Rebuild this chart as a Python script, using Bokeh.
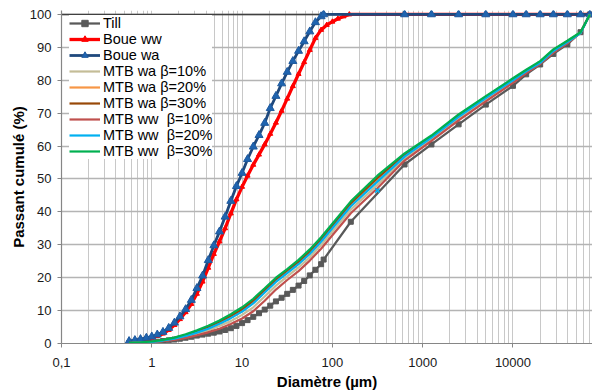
from bokeh.plotting import figure
from bokeh.models import (Range1d, FixedTicker, CustomJSTickFormatter, Legend,
                          LegendItem, Span)
from bokeh.embed import file_html
from bokeh.resources import INLINE

# ---------------- data ----------------
x_ticks = [0.1, 1, 10, 100, 1000, 10000]
x_minor = [m * 10.0 ** e for e in range(-1, 5) for m in range(2, 10)]
y_ticks = [0, 10, 20, 30, 40, 50, 60, 70, 80, 90, 100]

# laser diffraction classes (µm)
laser_d = [0.56, 0.65, 0.75, 0.87, 1.0, 1.15, 1.33, 1.54, 1.78, 2.05, 2.37, 2.74,
           3.16, 3.65, 4.22, 4.87, 5.62, 6.49, 7.50, 8.66, 10.0, 11.5, 13.3, 15.4,
           17.8, 20.5, 23.7, 27.4, 31.6, 36.5, 42.2, 48.7, 56.2, 64.9, 75.0]

till_laser = [0.1, 0.15, 0.2, 0.3, 0.4, 0.55, 0.75, 0.95, 1.2, 1.45, 1.75, 2.05,
              2.4, 2.7, 3.0, 3.3, 3.65, 4.1, 4.65, 5.35, 6.2, 7.1, 8.1, 9.2,
              10.3, 11.5, 12.8, 13.9, 15.1, 16.3, 17.6, 19.0, 20.7, 22.4, 24.1]
till_sieve_d = [80, 160, 630, 1250, 2500, 5000, 10000, 14000, 20000, 28000,
                40000, 56000, 71000]
till_sieve = [25.5, 37.0, 54.4, 60.5, 66.6, 72.6, 78.3, 81.8, 84.8, 88.0,
              90.9, 94.6, 100.0]

boue_ww_laser = [0.5, 0.8, 1.1, 1.4, 1.8, 2.3, 3.0, 4.1, 5.6, 7.4, 9.5, 12.0,
                 15.1, 18.8, 23.0, 27.2, 31.0, 35.0, 39.5, 43.8, 47.6, 51.0, 54.3, 57.4,
                 60.5, 63.7, 67.1, 70.7, 74.4, 78.2, 81.9, 85.5, 89.2, 92.8, 95.3]
boue_ww_tail_d = [86.6, 100, 115, 133, 154, 630, 1250, 2500, 5000, 10000, 14000,
                  20000, 28000, 40000, 56000, 71000]
boue_ww_tail = [96.8, 97.8, 98.7, 99.4, 100, 100, 100, 100, 100, 100, 100,
                100, 100, 100, 100, 100]

boue_wa_laser = [0.7, 1.0, 1.3, 1.7, 2.1, 2.7, 3.5, 4.7, 6.3, 8.2, 10.4, 13.2,
                 16.8, 20.6, 25.3, 29.8, 34.0, 38.5, 43.3, 47.8, 51.8, 56.0, 59.8, 63.3,
                 67.0, 71.5, 75.2, 79.0, 82.5, 85.8, 88.9, 91.8, 94.8, 97.6, 99.4]
boue_wa_tail_d = [80, 630, 1250, 2500, 5000, 10000, 14000, 20000, 28000, 40000,
                  56000, 71000]
boue_wa_tail = [100, 100, 100, 100, 100, 100, 100, 100, 100, 100, 100, 100]

mtb_d = [0.56, 0.75, 1.0, 1.33, 1.78, 2.37, 3.16, 4.22, 5.62, 7.5, 10, 13.3, 17.8,
         23.7, 31.6, 42.2, 56.2, 75, 160, 315, 630, 1250, 2500, 5000, 10000, 14000,
         20000, 28000, 40000, 56000, 71000]
mtb_wa_10 = [0.1, 0.25, 0.45, 0.8, 1.3, 2.0, 2.9, 4.0, 5.3, 6.8, 8.7, 11.0, 14.3,
             17.6, 20.4, 23.1, 26.2, 29.9, 40.7, 48.2, 56.2, 62.1, 68.3, 74.1, 79.6, 82.4,
             85.1, 88.6, 91.4, 94.4, 100]
mtb_wa_20 = [0.15, 0.3, 0.5, 0.95, 1.6, 2.5, 3.5, 4.8, 6.3, 8.1, 10.1, 12.6, 15.9,
             19.1, 21.8, 24.5, 27.6, 31.3, 42.1, 49.7, 57.1, 62.7, 69.1, 74.7, 80.1, 82.8,
             85.4, 89.0, 91.7, 94.4, 100]
mtb_wa_30 = [0.2, 0.3, 0.55, 1.0, 1.7, 2.6, 3.7, 5.0, 6.6, 8.4, 10.4, 13.0, 16.3,
             19.5, 22.2, 24.9, 28.0, 31.7, 42.6, 50.3, 57.4, 62.9, 69.3, 74.9, 80.3, 83.0,
             85.6, 89.2, 91.8, 94.5, 100]
mtb_ww_10 = [0.1, 0.2, 0.4, 0.7, 1.1, 1.7, 2.5, 3.4, 4.5, 5.9, 7.6, 9.8, 13.0,
             16.4, 19.3, 22.0, 25.2, 28.8, 39.6, 47.2, 55.6, 61.6, 67.8, 73.6, 79.2, 82.2,
             85.0, 88.4, 91.2, 94.4, 100]
mtb_ww_20 = [0.15, 0.3, 0.5, 0.9, 1.5, 2.3, 3.3, 4.5, 6.0, 7.7, 9.7, 12.2, 15.5,
             18.7, 21.4, 24.1, 27.2, 30.9, 41.7, 49.2, 56.8, 62.6, 68.9, 74.6, 80.0, 82.7,
             85.3, 88.9, 91.6, 94.3, 100]
mtb_ww_30 = [0.2, 0.35, 0.6, 1.1, 1.8, 2.8, 4.0, 5.4, 7.0, 8.9, 11.0, 13.6, 16.8,
             20.0, 22.6, 25.4, 28.6, 32.3, 43.2, 51.0, 57.8, 63.2, 69.6, 75.2, 80.6, 83.2,
             85.8, 89.4, 92.0, 94.6, 100]
ww20_mark_d = [315]
ww20_mark_v = [46.5]

labels = ["Till", "Boue ww", "Boue wa", "MTB wa β=10%", "MTB wa β=20%",
          "MTB wa β=30%", "MTB ww  β=10%", "MTB ww  β=20%", "MTB ww  β=30%"]

# ---------------- figure ----------------
FONT = "Liberation Sans"
p = figure(width=592, height=392, x_axis_type="log",
           x_range=Range1d(0.1, 76000), y_range=Range1d(0, 101.2),
           output_backend="svg", toolbar_location=None,
           min_border_left=61, min_border_right=0, min_border_top=10,
           min_border_bottom=49)
p.outline_line_color = None
p.background_fill_color = "white"
p.border_fill_color = "white"

xa = p.xaxis[0]
xa.ticker = FixedTicker(ticks=x_ticks, minor_ticks=x_minor)
xa.formatter = CustomJSTickFormatter(
    code="return (tick < 0.5) ? '0,1' : Math.round(tick).toString();")
ya = p.yaxis[0]
ya.ticker = FixedTicker(ticks=y_ticks)
for ax in (xa, ya):
    ax.axis_line_color = "#868686"
    ax.axis_line_width = 1.2
    ax.major_tick_line_color = "#868686"
    ax.major_tick_in = 0
    ax.major_tick_out = 4
    ax.minor_tick_line_color = None
    ax.major_label_text_font = FONT
    ax.major_label_text_font_size = "13px"
    ax.major_label_text_color = "#1a1a1a"
    ax.axis_label_text_font = FONT
    ax.axis_label_text_font_style = "bold"
    ax.axis_label_text_font_size = "15px"
    ax.axis_label_text_color = "#000000"
xa.major_label_standoff = 10
xa.axis_label = "Diamètre (µm)"
xa.axis_label_standoff = 3
ya.major_label_standoff = 6
ya.axis_label = "Passant cumulé (%)"
ya.axis_label_standoff = 0

p.xgrid.ticker = xa.ticker
p.xgrid.grid_line_color = "#C8C8C8"
p.xgrid.minor_grid_line_color = "#C8C8C8"
p.xgrid.grid_line_width = 1
p.xgrid.minor_grid_line_width = 1
p.ygrid.ticker = ya.ticker
p.ygrid.grid_line_color = "#B4B4B4"
p.ygrid.grid_line_width = 1.3

top = Span(location=100, dimension="width", line_color="#404040", line_width=1.5,
           level="underlay")
p.add_layout(top)

# ---------------- series ----------------
till_x = laser_d + till_sieve_d
till_y = till_laser + till_sieve
r_till = p.line(till_x, till_y, line_color="#595959", line_width=2.25)
m_till = p.scatter(till_x, till_y, marker="square", size=5,
                   fill_color="#595959", line_color="#595959")

ww_x = laser_d + boue_ww_tail_d
ww_y = boue_ww_laser + boue_ww_tail
r_ww = p.line(ww_x, ww_y, line_color="#FF0000", line_width=3.3)
m_ww = p.scatter(ww_x, ww_y, marker="triangle", size=5,
                 fill_color="#FF0000", line_color="#FF0000")

wa_x = laser_d + boue_wa_tail_d
wa_y = boue_wa_laser + boue_wa_tail
r_wa = p.line(wa_x, wa_y, line_color="#1F497D", line_width=2.8)
m_wa = p.scatter(wa_x, wa_y, marker="triangle", size=8,
                 fill_color="#1F64B0", line_color="#1F5A9E")

mtb_series = [(mtb_wa_10, "#C4BD97"), (mtb_wa_20, "#F79646"), (mtb_wa_30, "#984807"),
              (mtb_ww_10, "#C0504D"), (mtb_ww_20, "#00B0F0"), (mtb_ww_30, "#00B050")]
mtb_r = []
for vals, col in mtb_series:
    mtb_r.append(p.line(mtb_d, vals, line_color=col, line_width=2.2))
p.scatter(ww20_mark_d, ww20_mark_v, marker="x", size=6, line_color="#00B0F0",
          line_width=1.5)

items = [LegendItem(label=labels[0], renderers=[r_till, m_till]),
         LegendItem(label=labels[1], renderers=[r_ww, m_ww]),
         LegendItem(label=labels[2], renderers=[r_wa, m_wa])]
for lab, r in zip(labels[3:], mtb_r):
    items.append(LegendItem(label=lab, renderers=[r]))

legend = Legend(items=items, location=(8, 184), margin=0, padding=4, spacing=0,
                glyph_width=31, glyph_height=16, label_height=16, label_standoff=3,
                label_text_font=FONT, label_text_font_size="14.5px",
                label_text_color="#000000", background_fill_color="white",
                background_fill_alpha=1.0, border_line_color=None)
p.add_layout(legend)

open("out.html", "w").write(file_html(p, INLINE))
